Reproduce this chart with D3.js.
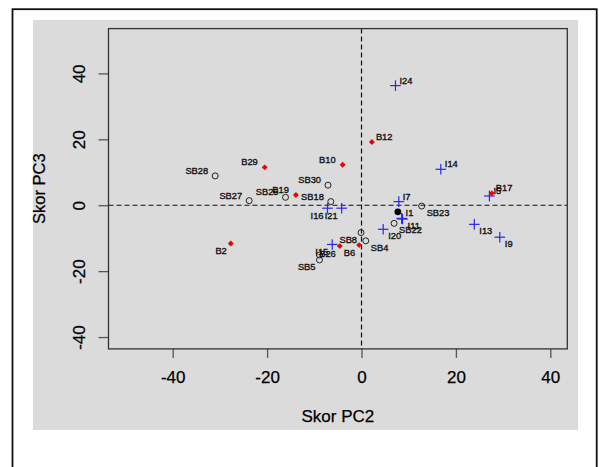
<!DOCTYPE html>
<html>
<head>
<meta charset="utf-8">
<script src="https://cdn.jsdelivr.net/npm/d3@7"></script>
<style>
  html, body { margin: 0; padding: 0; background: #ffffff; }
  svg { display: block; font-family: "Liberation Sans", Arial, sans-serif; }
</style>
</head>
<body>
<svg id="chart" width="599" height="467"></svg>
<script>
// PCA scores (PC2 vs PC3) for three sample groups

// B group: red filled diamonds
const bLabels = ["B12", "B10", "B29", "B19", "B2", "B26", "B6", "B17"];
const bPC2    = [2.2, -4.0, -20.5, -13.9, -27.7, -4.6, -0.5, 27.6];
const bPC3    = [19.2, 12.3, 11.5, 3.1, -11.6, -12.4, -12.1, 3.6];
const bLabelSide = ["e", "w", "w", "w", "sw", "sw", "sw", "e"];

// SB group: open circles
const sbLabels = ["SB28", "SB30", "SB27", "SB25", "SB18", "SB23", "SB22", "SB8", "SB4", "", "SB5"];
const sbPC2    = [-31.0, -7.1, -23.8, -16.1, -6.5, 12.75, 6.9, -0.1, 0.9, -8.9, -8.9];
const sbPC3    = [8.9, 6.1, 1.4, 2.4, 1.1, -0.25, -5.5, -8.3, -10.8, -15.1, -16.6];
const sbLabelSide = ["w", "w", "w", "w", "w", "se", "se", "sw", "se", "w", "sw"];

// I group: blue crosses
const iLabels = ["I24", "I14", "I7", "I5", "I16", "I21", "I1", "I11", "I20", "I13", "I9", "I15"];
const iPC2    = [7.2, 16.8, 7.9, 27.1, -7.2, -4.2, 8.5, 8.7, 4.6, 23.9, 29.3, -6.2];
const iPC3    = [36.3, 10.9, 1.1, 2.8, -0.9, -0.9, -4.0, -4.2, -7.3, -5.8, -9.7, -11.9];
const iLabelSide = ["e", "e", "e", "e", "sw", "sw", "e", "se", "se", "se", "se", "sw"];

// single reference point (solid black dot)
const refPC2 = [7.7];
const refPC3 = [-2.0];

const xTicks = [-40, -20, 0, 20, 40];
const yTicks = [-40, -20, 0, 20, 40];
const xLim = [-50, 40];
const yLim = [-40, 50];
const xTitle = "Skor PC2";
const yTitle = "Skor PC3";

// ---- layout ----
const svg = d3.select("#chart");
const plot = { left: 108.5, right: 567.3, top: 28.6, bottom: 348.9 };

// R-style 4% axis extension
const ext = (lim) => { const d = (lim[1] - lim[0]) * 0.04; return [lim[0] - d, lim[1] + d]; };
const x = d3.scaleLinear().domain(ext(xLim)).range([plot.left, plot.right]);
const y = d3.scaleLinear().domain(ext(yLim)).range([plot.bottom, plot.top]);
const plain = d => String(d);   // hyphen-minus, as R prints it

// outer frame and grey panel
svg.append("rect").attr("x", 12.5).attr("y", 9.2).attr("width", 584.2).attr("height", 480)
  .attr("fill", "#ffffff").attr("stroke", "#111").attr("stroke-width", 1.8);
svg.append("rect").attr("x", 33).attr("y", 20).attr("width", 545).attr("height", 410)
  .attr("fill", "#dbdbdb");

// reference lines through the origin
svg.append("line").attr("x1", x(0)).attr("x2", x(0)).attr("y1", plot.top).attr("y2", plot.bottom)
  .attr("stroke", "#111").attr("stroke-width", 1.2).attr("stroke-dasharray", "5,3");
svg.append("line").attr("x1", plot.left).attr("x2", plot.right).attr("y1", y(0)).attr("y2", y(0))
  .attr("stroke", "#111").attr("stroke-width", 1.2).attr("stroke-dasharray", "5,3");

// axes
const xAxis = svg.append("g").attr("transform", `translate(0,${plot.bottom})`)
  .call(d3.axisBottom(x).tickValues(xTicks).tickSize(9).tickFormat(plain));
xAxis.select(".domain").remove();
xAxis.selectAll("line").attr("stroke", "#555").attr("stroke-width", 1.3);
xAxis.selectAll("text").attr("y", 34.4).attr("dy", null)
  .attr("font-size", 17).attr("fill", "#000").attr("stroke", "#000").attr("stroke-width", 0.25)
  .attr("font-family", "Liberation Sans, Arial, sans-serif");

const yAxis = svg.append("g").attr("transform", `translate(${plot.left},0)`)
  .call(d3.axisLeft(y).tickValues(yTicks).tickSize(10).tickFormat(plain));
yAxis.select(".domain").remove();
yAxis.selectAll("line").attr("stroke", "#555").attr("stroke-width", 1.3);
yAxis.selectAll("text").attr("x", null).attr("dy", null)
  .attr("transform", "translate(-23.5,0) rotate(-90)")
  .attr("text-anchor", "middle")
  .attr("font-size", 17).attr("fill", "#000").attr("stroke", "#000").attr("stroke-width", 0.25)
  .attr("font-family", "Liberation Sans, Arial, sans-serif");

// plot box
svg.append("rect").attr("x", plot.left).attr("y", plot.top)
  .attr("width", plot.right - plot.left).attr("height", plot.bottom - plot.top)
  .attr("fill", "none").attr("stroke", "#333").attr("stroke-width", 1.3);

// axis titles
svg.append("text").attr("x", (plot.left + plot.right) / 2).attr("y", 421.5)
  .attr("text-anchor", "middle").attr("font-size", 17).attr("fill", "#000")
  .attr("stroke", "#000").attr("stroke-width", 0.25).text(xTitle);
svg.append("text").attr("transform", `translate(45,${(plot.top + plot.bottom) / 2}) rotate(-90)`)
  .attr("text-anchor", "middle").attr("font-size", 16.5).attr("fill", "#000")
  .attr("stroke", "#000").attr("stroke-width", 0.25).text(yTitle);

// ---- points ----
const zip = (labels, xs, ys, sides) => labels.map((l, i) => ({ label: l, px: xs[i], py: ys[i], side: sides[i] }));
const bData = zip(bLabels, bPC2, bPC3, bLabelSide);
const sbData = zip(sbLabels, sbPC2, sbPC3, sbLabelSide);
const iData = zip(iLabels, iPC2, iPC3, iLabelSide);

const pts = svg.append("g");

pts.selectAll(".sb").data(sbData).join("circle")
  .attr("cx", d => x(d.px)).attr("cy", d => y(d.py)).attr("r", 3)
  .attr("fill", "none").attr("stroke", "#222").attr("stroke-width", 1);

pts.selectAll(".ref").data(refPC2.map((v, i) => ({ px: v, py: refPC3[i] }))).join("circle")
  .attr("cx", d => x(d.px)).attr("cy", d => y(d.py)).attr("r", 3.4).attr("fill", "#000");

const diamond = d3.symbol().type(d3.symbolDiamond2).size(22);
pts.selectAll(".b").data(bData).join("path")
  .attr("transform", d => `translate(${x(d.px)},${y(d.py)})`)
  .attr("d", diamond).attr("fill", "#ee0000");

const arm = 5.3;
const cross = pts.selectAll(".i").data(iData).join("g")
  .attr("transform", d => `translate(${x(d.px)},${y(d.py)})`);
cross.append("line").attr("x1", -arm).attr("x2", arm).attr("stroke", "#2727f0").attr("stroke-width", 1.2);
cross.append("line").attr("y1", -arm).attr("y2", arm).attr("stroke", "#2727f0").attr("stroke-width", 1.2);

// ---- point labels ----
const side = {
  e:  { dx: 4,  dy: -2,   anchor: "start" },
  w:  { dx: -7, dy: -2,   anchor: "end" },
  se: { dx: 5,  dy: 10,   anchor: "start" },
  sw: { dx: -4, dy: 10.5, anchor: "end" }
};
const labelled = [...sbData, ...bData, ...iData].filter(d => d.label !== "");
svg.append("g").selectAll("text").data(labelled).join("text")
  .attr("x", d => x(d.px) + side[d.side].dx)
  .attr("y", d => y(d.py) + side[d.side].dy)
  .attr("text-anchor", d => side[d.side].anchor)
  .attr("font-size", 9.3).attr("fill", "#111")
  .attr("stroke", "#111").attr("stroke-width", 0.35)
  .text(d => d.label);
</script>
</body>
</html>
